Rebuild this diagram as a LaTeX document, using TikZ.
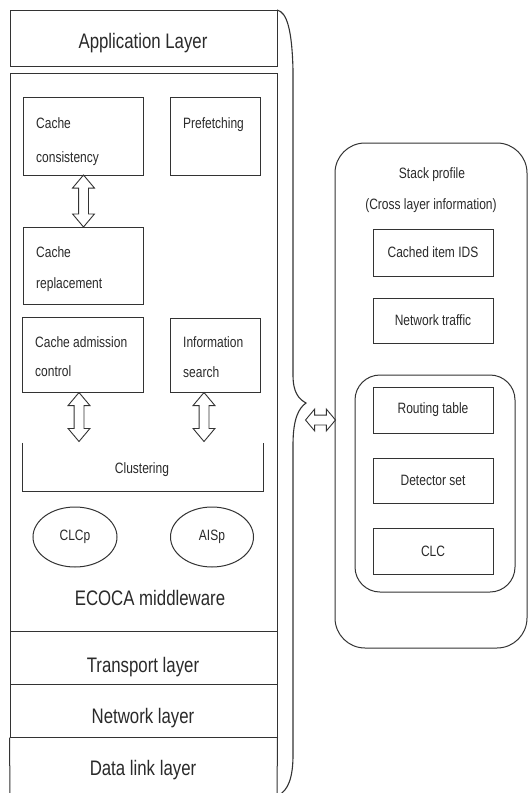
\documentclass[tikz,border=0pt]{standalone}
\usepackage{fontspec}
\setmainfont[FakeStretch=0.8]{Liberation Sans}
\usetikzlibrary{shapes.arrows,shapes.geometric,calc}
\definecolor{ln}{HTML}{333333}
\definecolor{tx}{HTML}{2A2A2A}
\begin{document}
\begin{tikzpicture}[x=1pt,y=-1pt,
  box/.style={draw=ln, line width=1pt, rectangle, inner sep=0},
  big/.style={font=\fontsize{21}{21}\selectfont, text=tx, inner sep=0},
  sm/.style={font=\fontsize{15}{15}\selectfont, text=tx, inner sep=0},
  darr/.style={draw=ln, line width=0.9pt, shape=double arrow, inner xsep=0, inner ysep=4.5pt,
    double arrow head extend=6pt, double arrow tip angle=80, minimum width=0pt},
  oval/.style={draw=ln, line width=1pt, ellipse, inner sep=0, minimum width=84, minimum height=60,
    font=\fontsize{15}{15}\selectfont, text=tx},
]
\useasboundingbox (0,0) rectangle (528,793);
\fill[white] (0,0) rectangle (528,793);

% left stack
\node[box, minimum width=267, minimum height=56] (app) at (143.5,38) {};
\node[box, minimum width=267, minimum height=558] (mw) at (143.5,352) {};
\node[box, minimum width=267, minimum height=53] (tr) at (143.5,657.5) {};
\node[box, minimum width=267, minimum height=53] (nw) at (143.5,710.5) {};
\coordinate (dlbl) at (10,794);
\coordinate (dlbr) at (277,794);
\draw[ln, line width=1pt] (dlbl) -- (nw.south west) (nw.south east) -- (dlbr);

\node[big, anchor=base] (tapp) at (143,48) {Application Layer};
\node[big, anchor=base] (tmw) at (150,605) {ECOCA middleware};
\node[big, anchor=base] (ttr) at (143,672) {Transport layer};
\node[big, anchor=base] (tnw) at (143,723) {Network layer};
\node[big, anchor=base] (tdl) at (143,775) {Data link layer};

% inner boxes
\node[box, minimum width=120, minimum height=78] (cc) at (83,136) {};
\node[box, minimum width=90, minimum height=78] (pf) at (215,136) {};
\node[box, minimum width=120, minimum height=77] (cr) at (83,265.5) {};
\node[box, minimum width=121, minimum height=75] (ca) at (82.5,354.5) {};
\node[box, minimum width=90, minimum height=74] (is) at (215,355) {};

\node[sm, anchor=base west] (t1) at (36,128) {Cache};
\node[sm, anchor=base west] (t2) at (36,162) {consistency};
\node[sm, anchor=base west] (t3) at (183,128) {Prefetching};
\node[sm, anchor=base west] (t4) at (36,257) {Cache};
\node[sm, anchor=base west] (t5) at (36,288) {replacement};
\node[sm, anchor=base west] (t6) at (35,347) {Cache admission};
\node[sm, anchor=base west] (t7) at (35,376) {control};
\node[sm, anchor=base west] (t8) at (183,347) {Information};
\node[sm, anchor=base west] (t9) at (183,377) {search};

% clustering
\node[inner sep=0, minimum width=240, minimum height=48] (clus) at (143,467) {};
\draw[ln, line width=1pt] (clus.north west) -- (clus.south west) -- (clus.south east) -- (clus.north east);
\node[sm, anchor=base] (tclus) at (142,473) {Clustering};

% arrows
\node[darr, rotate=90, minimum height=52] (a1) at (83.5,201) {};
\node[darr, rotate=90, minimum height=49] (a2) at (79,417) {};
\node[darr, rotate=90, minimum height=49] (a3) at (204,417) {};

% ellipses
\node[oval] (clcp) at (75,537) {CLCp};
\node[oval, minimum width=83] (aisp) at (212,537) {AISp};

% brace
\draw[ln, line width=1.1pt] (277,10) .. controls (287,12) and (292,30) .. (293,70) -- (293,375)
  .. controls (293,393) and (299,399) .. (306,403)
  .. controls (299,408) and (293,418) .. (293,445) -- (293,755)
  .. controls (293,778) and (288,790) .. (279,795);

% stack profile
\node[draw=ln, line width=1pt, rounded corners=30pt, minimum width=192, minimum height=505, inner sep=0] (sp) at (431,395.5) {};
\node[sm, anchor=base] (tsp1) at (432,178) {Stack profile};
\node[sm, anchor=base] (tsp2) at (431,209) {(Cross layer information)};
\node[box, minimum width=120, minimum height=47, sm] (ids) at (433,252.5) {Cached item IDS};
\node[box, minimum width=120, minimum height=45, sm] (ntr) at (433,320.5) {Network traffic};
\node[draw=ln, line width=1pt, rounded corners=25pt, minimum width=160, minimum height=217, inner sep=0] (inn) at (435,483.5) {};
\node[box, minimum width=120, minimum height=46, sm] (rt) at (433,410) {Routing table};
\node[box, minimum width=120, minimum height=45, sm] (ds) at (433,480.5) {Detector set};
\node[box, minimum width=120, minimum height=46, sm] (clc) at (433,551) {CLC};

\node[darr, minimum height=30, inner ysep=4.5pt, double arrow head extend=6pt, double arrow tip angle=100] (ha) at (320.5,420) {};
\end{tikzpicture}
\end{document}
